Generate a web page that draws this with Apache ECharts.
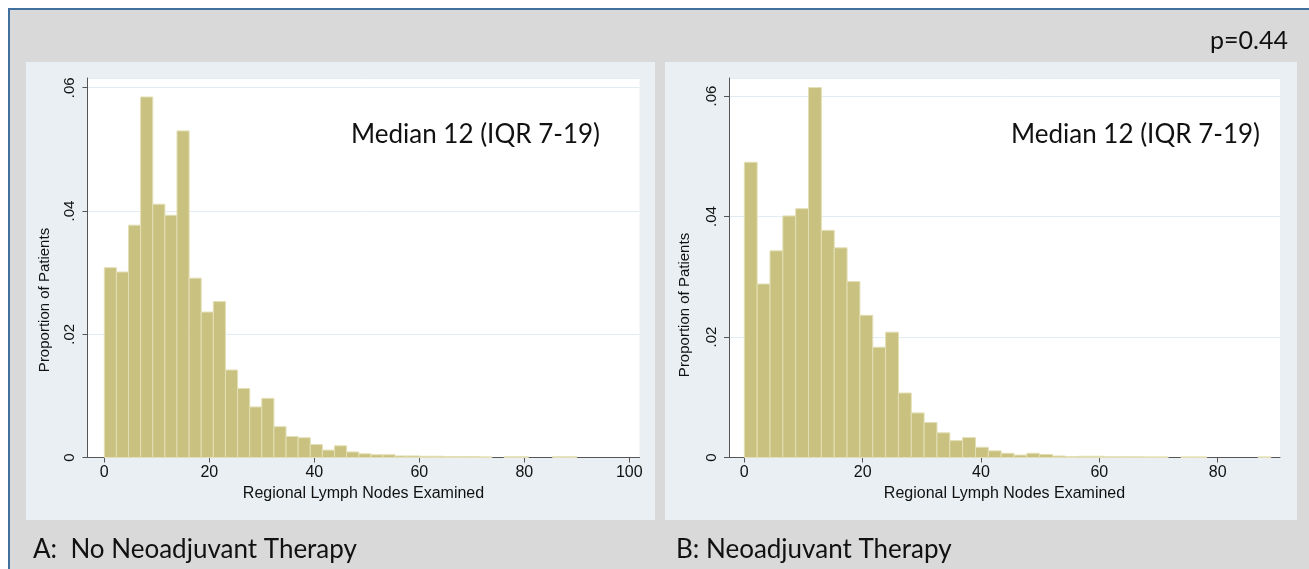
<!DOCTYPE html>
<html>
<head>
<meta charset="utf-8">
<script src="https://cdn.jsdelivr.net/npm/echarts@6/dist/echarts.min.js"></script>
<style>
html,body{margin:0;padding:0;background:#fff;}
#main{width:1309px;height:569px;}
</style>
</head>
<body>
<div id="main"></div>
<script>
// ---- Data ----
// Panel A: No Neoadjuvant Therapy (39 bins over 0-90)
const leftBinStart = 0;
const leftBinWidth = 90 / 39;
const leftProportions = [
  0.0308, 0.0301, 0.0377, 0.0585, 0.0411, 0.0393, 0.0530, 0.0291, 0.0236, 0.0253,
  0.0142, 0.0112, 0.0082, 0.0096, 0.0050, 0.0034, 0.0032, 0.0021, 0.0012, 0.0019,
  0.0009, 0.0006, 0.00045, 0.00045, 0.00025, 0.00025, 0.0002, 0.0002, 0.00015, 0.00015,
  0.00015, 0.0001, 0, 0.00012, 0.00012, 0, 0, 0.00012, 0.00012
];
// Panel B: Neoadjuvant Therapy (41 bins over 0-89)
const rightBinStart = 0;
const rightBinWidth = 89 / 41;
const rightProportions = [
  0.0490, 0.0288, 0.0343, 0.0401, 0.0413, 0.0614, 0.0377, 0.0348, 0.0292, 0.0236,
  0.0183, 0.0208, 0.0107, 0.0074, 0.0058, 0.0041, 0.0028, 0.0033, 0.0017, 0.0011,
  0.0007, 0.0004, 0.0007, 0.0005, 0.00025, 0.00015, 0.0002, 0.0002, 0.00012, 0.00012,
  0.00012, 0.0001, 0.0001, 0, 0.0001, 0.0001, 0, 0, 0, 0, 0.0001
];
const leftXTicks = [0, 20, 40, 60, 80, 100];
const rightXTicks = [0, 20, 40, 60, 80];
const xAxisTitle = 'Regional Lymph Nodes Examined';
const yAxisTitle = 'Proportion of Patients';
const medianText = 'Median 12 (IQR 7-19)';
const panelLabels = ['A:  No Neoadjuvant Therapy', 'B: Neoadjuvant Therapy'];
const pValueText = 'p=0.44';

// ---- Build ----
function toBins(start, width, values) {
  return values.map((v, i) => [start + i * width, start + (i + 1) * width, v]);
}
const barFill = '#c9c17f';
const barEdge = '#e3dfb6';
function renderBar(params, api) {
  const h = api.value(2);
  if (!h) return null;
  const p0 = api.coord([api.value(0), h]);
  const p1 = api.coord([api.value(1), 0]);
  return {
    type: 'rect',
    shape: { x: p0[0], y: p0[1], width: p1[0] - p0[0], height: p1[1] - p0[1] },
    style: { fill: barFill, stroke: barEdge, lineWidth: 1 }
  };
}
const sans = 'Liberation Sans, Arial, sans-serif';
const calibri = 'Lato, "Open Sans", sans-serif';
const axisColor = '#555';
const textColor = '#111';

function xAxisDef(gridIndex, min, max, ticks) {
  return {
    type: 'value', gridIndex, min, max,
    axisLine: { show: true, onZero: false, lineStyle: { color: axisColor, width: 1 } },
    axisTick: { show: true, length: 5, customValues: ticks, lineStyle: { color: axisColor } },
    axisLabel: { customValues: ticks, margin: 7, color: textColor, fontFamily: sans, fontSize: 16 },
    splitLine: { show: false },
    name: xAxisTitle, nameLocation: 'middle', nameGap: 28,
    nameTextStyle: { color: textColor, fontFamily: sans, fontSize: 16 }
  };
}
function yAxisDef(gridIndex, max) {
  return {
    type: 'value', gridIndex, min: 0, max, interval: 0.02,
    axisLine: { show: true, onZero: false, lineStyle: { color: axisColor, width: 1 } },
    axisTick: { show: true, length: 5, lineStyle: { color: axisColor } },
    axisLabel: {
      rotate: 90, margin: 10, color: textColor, fontFamily: sans, fontSize: 15,
      showMaxLabel: false,
      formatter: v => (Math.abs(v) < 1e-9 ? '0' : v.toFixed(2).replace(/^0/, ''))
    },
    splitLine: { show: true, lineStyle: { color: '#e3ecf1', width: 1 } }
  };
}

const chart = echarts.init(document.getElementById('main'), null, { renderer: 'canvas' });
chart.setOption({
  backgroundColor: '#ffffff',
  animation: false,
  graphic: [
    { type: 'rect', z: -10, shape: { x: 9, y: 9, width: 1320, height: 580 },
      style: { fill: '#d9d9d9', stroke: '#41709f', lineWidth: 2 } },
    { type: 'rect', z: -9, shape: { x: 26, y: 62, width: 629, height: 458 },
      style: { fill: '#e9eff2' } },
    { type: 'rect', z: -9, shape: { x: 665, y: 62, width: 632, height: 458 },
      style: { fill: '#e9eff2' } },
    { type: 'text', z: 5, x: 45, y: 300, rotation: Math.PI / 2,
      style: { text: yAxisTitle, fill: textColor, font: '15px ' + sans, align: 'center', verticalAlign: 'middle' } },
    { type: 'text', z: 5, x: 685, y: 305, rotation: Math.PI / 2,
      style: { text: yAxisTitle, fill: textColor, font: '15px ' + sans, align: 'center', verticalAlign: 'middle' } },
    { type: 'text', z: 5, x: 600, y: 135,
      style: { text: medianText, fill: textColor, font: '26px ' + calibri, align: 'right', verticalAlign: 'middle' } },
    { type: 'text', z: 5, x: 1260, y: 135,
      style: { text: medianText, fill: textColor, font: '26px ' + calibri, align: 'right', verticalAlign: 'middle' } },
    { type: 'text', z: 5, x: 1288, y: 41,
      style: { text: pValueText, fill: textColor, font: '25px ' + calibri, align: 'right', verticalAlign: 'middle' } },
    { type: 'text', z: 5, x: 33, y: 550,
      style: { text: panelLabels[0], fill: textColor, font: '26px ' + calibri, align: 'left', verticalAlign: 'middle' } },
    { type: 'text', z: 5, x: 676, y: 550,
      style: { text: panelLabels[1], fill: textColor, font: '26px ' + calibri, align: 'left', verticalAlign: 'middle' } }
  ],
  grid: [
    { left: 87.5, right: 1309 - 639.5, top: 78, bottom: 569 - 457.5, show: true,
      backgroundColor: '#ffffff', borderWidth: 0, containLabel: false },
    { left: 729, right: 1309 - 1280, top: 78, bottom: 569 - 457.5, show: true,
      backgroundColor: '#ffffff', borderWidth: 0, containLabel: false }
  ],
  xAxis: [
    xAxisDef(0, -3.2, 101.94, leftXTicks),
    xAxisDef(1, -2.59, 90.54, rightXTicks)
  ],
  yAxis: [
    yAxisDef(0, 0.06158),
    yAxisDef(1, 0.06299)
  ],
  series: [
    { type: 'custom', xAxisIndex: 0, yAxisIndex: 0, renderItem: renderBar,
      encode: { x: [0, 1], y: 2 }, data: toBins(leftBinStart, leftBinWidth, leftProportions) },
    { type: 'custom', xAxisIndex: 1, yAxisIndex: 1, renderItem: renderBar,
      encode: { x: [0, 1], y: 2 }, data: toBins(rightBinStart, rightBinWidth, rightProportions) }
  ]
});
</script>
</body>
</html>
